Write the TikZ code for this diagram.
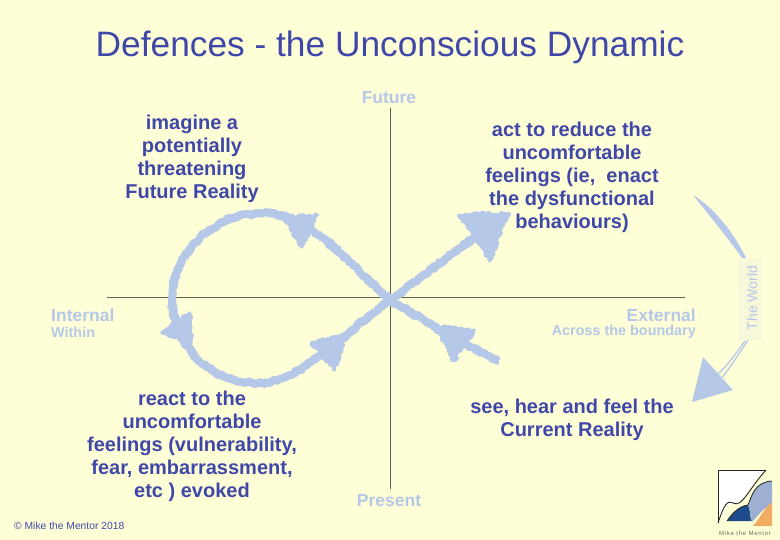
\documentclass[tikz,border=0pt]{standalone}
\usepackage{fontspec}
\setmainfont{Liberation Sans}
\usetikzlibrary{decorations.pathmorphing}
\definecolor{paper}{HTML}{FFFFD7}
\definecolor{ink}{HTML}{3F48A8}
\definecolor{pale}{HTML}{B5C8E8}
\definecolor{axis}{HTML}{5E5E50}
\definecolor{haze}{HTML}{F7F8DA}
\definecolor{logoblue}{HTML}{1F4A8A}
\definecolor{logosteel}{HTML}{9DB0D2}
\definecolor{logoorange}{HTML}{F2AB62}
\definecolor{logotext}{HTML}{6A6A60}
\newcommand{\looppath}{(tail) -- (450,336) -- (cross) .. controls (355,268) and (325,235) .. (303,225) .. controls (290,218) and (278,213) .. (top) .. controls (212,213) and (172,255) .. (left) .. controls (172,345) and (210,383) .. (bottom) .. controls (290,383) and (310,362) .. (327,350) -- (cross) -- (tip)}
\tikzset{
	phase/.style={text=ink,font=\bfseries\fontsize{20}{23}\selectfont,align=center},
	compass/.style={text=pale,font=\bfseries\fontsize{17.5}{19}\selectfont},
	compasssub/.style={text=pale,font=\bfseries\fontsize{14.4}{16}\selectfont},
	rough/.style={decorate,decoration={random steps,segment length=1.6pt,amplitude=1.7pt}},
	stroke/.style={draw=pale,rough,line width=#1,line cap=butt,line join=bevel},
	head/.style={fill=pale,draw=pale,rough,line width=2.5pt,line join=bevel}
}
\begin{document}
\begin{tikzpicture}[x=1pt,y=-1pt]
	\useasboundingbox (0,0) rectangle (780,540);
	\fill [paper] (0,0) rectangle (780,540);
	%
	\node (title) at (390,47) [text=ink,font=\fontsize{35.3}{40}\selectfont] {Defences - the Unconscious Dynamic};
	\node (imagine) at (192,159) [phase] {imagine a\\potentially\\threatening\\Future Reality};
	\node (act) at (572,177) [phase] {act to reduce the\\uncomfortable\\feelings (ie,~~enact\\the dysfunctional\\behaviours)};
	\node (react) at (192,446) [phase] {react to the\\uncomfortable\\feelings (vulnerability,\\fear, embarrassment,\\etc ) evoked};
	\node (see) at (572,419.5) [phase] {see, hear and feel the\\Current Reality};
	%
	\coordinate (north) at (390,108);
	\coordinate (south) at (390,489);
	\coordinate (west) at (107,298);
	\coordinate (east) at (685,298);
	\draw [axis,line width=1pt] (north) -- (south);
	\draw [axis,line width=1pt] (west) -- (east);
	%
	\node (future) at (389,97.5) [compass] {Future};
	\node (present) at (389,500.5) [compass] {Present};
	\node (internal) at (51,315) [compass,anchor=west,inner sep=0pt] {Internal};
	\node (within) at (51,332) [compasssub,anchor=west,inner sep=0pt] {Within};
	\node (external) at (696,315) [compass,anchor=east,inner sep=0pt] {External};
	\node (across) at (696,332) [compasssub,anchor=east,inner sep=0pt] {Across the boundary};
	%
	\coordinate (tail) at (499,361);
	\coordinate (cross) at (390,300);
	\coordinate (top) at (263,213);
	\coordinate (left) at (172,298);
	\coordinate (bottom) at (257,383);
	\coordinate (tip) at (485,230);
	\pgfmathsetseed{7}
	\draw [stroke=7.5pt] \looppath;
	\draw [stroke=7.5pt] \looppath;
	%
	\draw [head] (475,330) -- (453,362) -- (436,326) -- cycle;
	\draw [head] (318,215) -- (301,248) -- (284,217) -- cycle;
	\draw [head] (190,312) -- (192,343) -- (161,333) -- cycle;
	\draw [head] (347,334) -- (335,370) -- (311,343) -- cycle;
	\draw [head] (509,213) -- (490,261) -- (458,214) -- cycle;
	%
	\fill [haze] (738,258) rectangle (762,340);
	\node (world) at (752,298) [rotate=90,text=pale,font=\fontsize{14}{16}\selectfont] {The World};
	\coordinate (arcstart) at (693,195);
	\coordinate (arcend) at (746,258);
	\coordinate (arcresume) at (748,340);
	\coordinate (arcfoot) at (722,378);
	\fill [pale] (arcstart) .. controls (715,208) and (735,235) .. (arcend) -- (742,258) .. controls (728,238) and (708,214) .. cycle;
	\draw [pale,line width=1.3pt] (arcresume) .. controls (741,351) and (731,366) .. (arcfoot);
	\draw [pale,line width=1.3pt] (745,341) .. controls (738,351) and (727,366) .. (717,375);
	\fill [pale] (703,357) -- (733,390) -- (692,402) -- cycle;
	%
	\node (copyright) at (14,525.5) [anchor=west,inner sep=0pt,text=ink,font=\fontsize{10.3}{12}\selectfont] {© Mike the Mentor 2018};
	%
	\fill [white] (718,523) -- (718,470) -- (766,470) .. controls (755,478) and (750,490) .. (742,500) .. controls (735,507) and (728,500) .. (725,510) -- cycle;
	\fill [logoblue] (727,521) .. controls (733,512) and (740,506) .. (748,505) .. controls (751,510) and (749,516) .. (752,521) -- cycle;
	\fill [logosteel] (748,505) .. controls (752,495) and (755,482) .. (772,481) -- (772,504) .. controls (763,508) and (758,516) .. (752,522) .. controls (749,516) and (751,510) .. cycle;
	\fill [logoorange] (753,526) .. controls (760,518) and (766,505) .. (772,503) -- (772,526) -- cycle;
	\draw [black!85,line width=0.9pt] (718,523) -- (718,470) -- (766,470);
	\draw [black!85,line width=0.9pt] (718,523) .. controls (724,505) and (727,500) .. (733,503) .. controls (742,508) and (748,490) .. (766,470);
	\draw [black!85,line width=0.8pt] (727,521) .. controls (733,512) and (740,506) .. (748,505) .. controls (752,495) and (755,482) .. (772,481);
	\node (logotext) at (745,533) [text=logotext,font=\fontsize{6}{7}\selectfont] {\addfontfeatures{LetterSpace=12}Mike the Mentor};
\end{tikzpicture}
\end{document}
